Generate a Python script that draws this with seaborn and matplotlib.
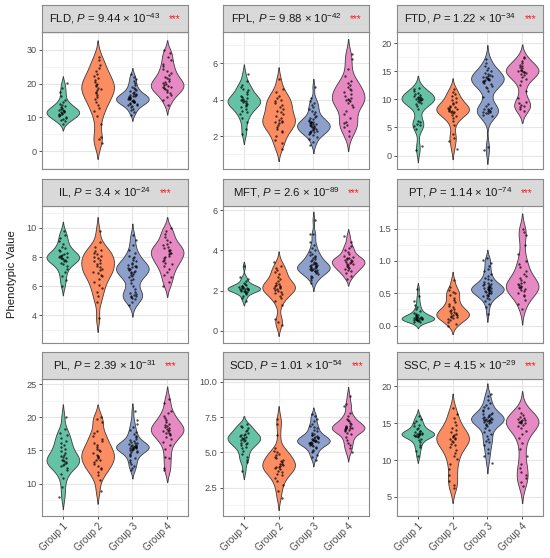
import numpy as np
import pandas as pd
import seaborn as sns
import matplotlib.pyplot as plt
from matplotlib.offsetbox import TextArea, HPacker, AnchoredOffsetbox
from matplotlib.ticker import AutoMinorLocator

sns.set_style("white")
plt.rcParams["font.family"] = ["Liberation Sans", "DejaVu Sans"]
plt.rcParams["mathtext.fontset"] = "custom"
plt.rcParams["mathtext.rm"] = "Liberation Sans"
plt.rcParams["mathtext.it"] = "Liberation Sans:italic"

groups = ["Group 1", "Group 2", "Group 3", "Group 4"]
palette = ["#66C2A5", "#FC8D62", "#8DA0CB", "#E78AC3"]

traits = ["FLD", "FPL", "FTD", "IL", "MFT", "PT", "PL", "SCD", "SSC"]
p_mant = ["9.44", "9.88", "1.22", "3.4", "2.6", "1.14", "2.39", "1.01", "4.15"]
p_exp = [-43, -42, -34, -24, -89, -74, -31, -54, -29]

yticks = {
    "FLD": [0, 10, 20, 30],
    "FPL": [2, 4, 6],
    "FTD": [0, 5, 10, 15, 20],
    "IL": [4, 6, 8, 10],
    "MFT": [0, 2, 4, 6],
    "PT": [0.0, 0.5, 1.0, 1.5],
    "PL": [10, 15, 20, 25],
    "SCD": [2.5, 5.0, 7.5, 10.0],
    "SSC": [5, 10, 15, 20],
}
ylims = {
    "FLD": (-5.2, 35.2), "FPL": (0.2, 7.7), "FTD": (-2.4, 22.0),
    "IL": (2.1, 11.5), "MFT": (-0.6, 6.2), "PT": (-0.27, 1.85),
    "PL": (5.1, 25.8), "SCD": (0.5, 10.2), "SSC": (2.4, 21.0),
}

fld_g1 = [8.2, 8.9, 9.3, 9.6, 9.9, 10.2, 10.4, 10.6, 10.8, 11.0, 11.1, 11.3, 11.5, 11.6, 11.8,
          12.0, 12.1, 12.3, 12.5, 12.8, 13.0, 13.3, 13.6, 14.0, 14.5, 15.2, 16.3, 17.5, 18.6, 20.1]
fld_g2 = [2.6, 3.5, 4.2, 8.0, 10.5, 11.8, 12.9, 13.8, 14.6, 15.3, 16.0, 16.6, 17.1, 17.6, 18.0,
          18.4, 18.8, 19.2, 19.6, 20.0, 20.5, 21.0, 21.6, 22.2, 22.9, 23.7, 24.5, 25.6, 26.8, 27.9]
fld_g3 = [10.8, 11.5, 12.1, 12.6, 13.0, 13.3, 13.6, 13.9, 14.1, 14.3, 14.5, 14.7, 14.9, 15.0, 15.2,
          15.3, 15.5, 15.6, 15.8, 16.0, 16.1, 16.3, 16.5, 16.7, 16.9, 17.1, 17.4, 17.7, 18.0, 18.3,
          18.7, 19.1, 19.6, 20.1, 20.7, 21.3, 22.0, 22.8, 14.8, 15.4, 15.9, 14.6, 16.2, 13.8, 17.0]
fld_g4 = [13.8, 15.2, 16.0, 16.7, 17.2, 17.6, 18.0, 18.3, 18.6, 18.9, 19.1, 19.4, 19.6, 19.9, 20.2,
          20.5, 20.8, 21.2, 21.6, 22.0, 22.5, 23.1, 23.7, 24.4, 25.1, 25.9, 26.8, 27.8, 28.9, 29.8]

fpl_g1 = [2.1, 2.4, 2.8, 3.0, 3.2, 3.3, 3.4, 3.5, 3.6, 3.7, 3.75, 3.8, 3.85, 3.9, 3.95,
          4.0, 4.05, 4.1, 4.2, 4.3, 4.4, 4.5, 4.6, 4.7, 4.8, 5.0, 5.4, 3.65, 3.9, 4.15]
fpl_g2 = [1.3, 1.6, 1.8, 2.0, 2.2, 2.3, 2.4, 2.5, 2.6, 2.7, 2.8, 2.85, 2.9, 3.0, 3.1,
          3.2, 3.3, 3.4, 3.5, 3.6, 3.7, 3.8, 3.9, 4.0, 4.1, 4.2, 4.4, 4.6, 5.1, 2.75]
fpl_g3 = [1.5, 1.7, 1.85, 1.95, 2.05, 2.1, 2.15, 2.2, 2.25, 2.3, 2.35, 2.4, 2.45, 2.5, 2.5,
          2.55, 2.6, 2.6, 2.65, 2.7, 2.7, 2.75, 2.8, 2.85, 2.9, 2.95, 3.0, 3.05, 3.1, 3.2,
          3.3, 3.4, 3.5, 3.6, 3.7, 3.8, 3.9, 4.1, 2.4, 2.55, 2.65, 2.3, 2.8, 2.2, 4.7]
fpl_g4 = [2.0, 2.3, 2.5, 2.6, 2.7, 2.8, 3.0, 3.2, 3.4, 3.6, 3.7, 3.8, 3.9, 4.0, 4.05,
          4.1, 4.2, 4.3, 4.4, 4.5, 4.6, 4.7, 4.8, 4.9, 5.0, 5.3, 5.7, 6.2, 6.5, 3.95]

ftd_g1 = [0.9, 1.7, 4.8, 5.2, 5.5, 5.7, 5.9, 6.2, 8.2, 8.8, 9.1, 9.4, 9.6, 9.8, 9.9,
          10.0, 10.1, 10.2, 10.3, 10.4, 10.6, 10.8, 11.0, 11.2, 11.5, 11.8, 12.1, 9.7, 10.05, 10.5]
ftd_g2 = [1.2, 2.5, 3.2, 3.8, 5.5, 6.2, 6.7, 7.0, 7.3, 7.5, 7.7, 7.9, 8.0, 8.1, 8.3,
          8.5, 8.7, 8.9, 9.1, 9.3, 9.6, 9.9, 10.2, 10.6, 11.0, 11.4, 11.9, 7.8, 8.2, 8.6]
ftd_g3 = [1.0, 1.5, 7.0, 7.3, 7.5, 7.7, 7.8, 7.9, 8.0, 8.1, 8.3, 8.5, 8.8, 9.2, 10.5,
          11.5, 12.0, 12.4, 12.7, 12.9, 13.1, 13.3, 13.4, 13.5, 13.6, 13.7, 13.8, 13.9, 14.0, 14.1,
          14.3, 14.5, 14.7, 15.0, 15.3, 15.6, 16.0, 16.5, 17.2, 12.2, 13.2, 13.55, 8.2, 7.6, 14.2]
ftd_g4 = [8.0, 8.3, 8.6, 8.8, 9.0, 9.3, 9.6, 10.2, 11.5, 12.5, 13.2, 13.7, 14.0, 14.3, 14.5,
          14.7, 14.9, 15.0, 15.1, 15.3, 15.5, 15.7, 15.9, 16.1, 16.4, 16.8, 17.3, 17.6, 14.8, 15.2]

il_g1 = [6.0, 6.4, 6.7, 7.0, 7.2, 7.4, 7.5, 7.6, 7.7, 7.8, 7.85, 7.9, 7.95, 8.0, 8.05,
         8.1, 8.2, 8.3, 8.4, 8.5, 8.6, 8.7, 8.9, 9.1, 9.3, 9.5, 9.8, 7.75, 8.0, 8.15]
il_g2 = [3.8, 4.9, 5.3, 5.6, 5.9, 6.1, 6.3, 6.5, 6.7, 6.8, 6.9, 7.0, 7.1, 7.2, 7.3,
         7.4, 7.5, 7.6, 7.7, 7.8, 7.9, 8.0, 8.1, 8.2, 8.3, 8.4, 8.5, 8.7, 9.0, 9.8]
il_g3 = [4.7, 4.9, 5.1, 5.2, 5.3, 5.35, 5.4, 5.5, 5.6, 5.8, 6.0, 6.2, 6.4, 6.5, 6.6,
         6.7, 6.8, 6.9, 7.0, 7.05, 7.1, 7.15, 7.2, 7.25, 7.3, 7.35, 7.4, 7.5, 7.6, 7.7,
         7.8, 7.9, 8.0, 8.1, 8.3, 8.5, 8.8, 9.2, 9.5, 5.25, 7.0, 7.3, 6.85, 7.45, 5.45]
il_g4 = [6.0, 6.3, 6.6, 6.8, 7.0, 7.2, 7.4, 7.6, 7.7, 7.8, 7.9, 8.0, 8.1, 8.2, 8.3,
         8.4, 8.5, 8.6, 8.7, 8.8, 8.9, 9.0, 9.2, 9.4, 9.6, 9.8, 10.0, 8.25, 8.45, 7.5]

mft_g1 = [1.5, 1.65, 1.75, 1.85, 1.9, 1.95, 2.0, 2.0, 2.05, 2.05, 2.1, 2.1, 2.1, 2.15, 2.15,
          2.2, 2.2, 2.25, 2.3, 2.35, 2.4, 2.5, 2.6, 2.7, 3.2, 2.0, 2.1, 2.15, 1.95, 2.25]
mft_g2 = [0.3, 0.45, 0.6, 1.3, 1.5, 1.65, 1.75, 1.85, 1.95, 2.0, 2.05, 2.1, 2.15, 2.2, 2.25,
          2.3, 2.4, 2.5, 2.6, 2.7, 2.8, 2.9, 3.0, 3.1, 3.2, 3.4, 2.15, 2.25, 2.35, 1.9]
mft_g3 = [2.4, 2.55, 2.65, 2.75, 2.8, 2.85, 2.9, 2.95, 3.0, 3.0, 3.05, 3.1, 3.1, 3.15, 3.2,
          3.2, 3.25, 3.3, 3.3, 3.35, 3.4, 3.45, 3.5, 3.55, 3.6, 3.65, 3.7, 3.8, 3.9, 4.0,
          4.1, 4.25, 4.4, 4.8, 4.8, 5.5, 3.05, 3.15, 3.25, 2.95, 3.35, 3.0, 3.2, 2.7, 3.75]
mft_g4 = [2.6, 2.75, 2.85, 2.95, 3.0, 3.05, 3.1, 3.15, 3.2, 3.25, 3.3, 3.35, 3.4, 3.45, 3.5,
          3.55, 3.6, 3.65, 3.7, 3.8, 3.9, 4.0, 4.1, 4.2, 4.4, 4.7, 3.4, 3.3, 3.5, 3.6]

pt_g1 = [0.05, 0.06, 0.07, 0.08, 0.08, 0.09, 0.09, 0.1, 0.1, 0.1, 0.11, 0.11, 0.12, 0.12, 0.13,
         0.13, 0.14, 0.15, 0.16, 0.17, 0.18, 0.2, 0.22, 0.25, 0.28, 0.32, 0.38, 0.45, 0.57, 0.1]
pt_g2 = [0.0, 0.03, 0.06, 0.08, 0.1, 0.12, 0.13, 0.15, 0.16, 0.17, 0.18, 0.19, 0.2, 0.21, 0.22,
         0.24, 0.26, 0.28, 0.3, 0.33, 0.36, 0.4, 0.43, 0.47, 0.5, 0.52, 0.55, 0.6, 0.7, 0.14]
pt_g3 = [0.18, 0.28, 0.34, 0.38, 0.41, 0.43, 0.45, 0.47, 0.48, 0.5, 0.51, 0.52, 0.53, 0.54, 0.55,
         0.56, 0.57, 0.58, 0.59, 0.6, 0.61, 0.62, 0.63, 0.64, 0.66, 0.68, 0.7, 0.72, 0.74, 0.77,
         0.8, 0.84, 0.88, 0.92, 0.97, 1.02, 1.05, 0.55, 0.57, 0.53, 0.6, 0.5, 0.46, 0.65, 0.58]
pt_g4 = [0.25, 0.33, 0.4, 0.45, 0.48, 0.5, 0.53, 0.55, 0.57, 0.59, 0.6, 0.62, 0.64, 0.66, 0.68,
         0.7, 0.73, 0.76, 0.8, 0.85, 0.9, 0.95, 1.0, 1.1, 1.25, 1.4, 1.45, 1.5, 0.61, 0.58]

pl_g1 = [8.0, 9.5, 10.8, 11.5, 12.0, 12.4, 12.7, 13.0, 13.2, 13.4, 13.6, 13.8, 14.0, 14.3, 14.6,
         14.9, 15.2, 15.5, 15.8, 16.1, 16.5, 16.9, 17.3, 17.7, 18.2, 20.1, 13.1, 13.5, 12.8, 14.1]
pl_g2 = [8.9, 10.6, 11.3, 11.8, 12.2, 12.6, 12.9, 13.2, 13.5, 13.8, 14.0, 14.3, 14.6, 14.9, 15.2,
         15.5, 15.8, 16.1, 16.4, 16.8, 17.2, 17.6, 18.0, 19.3, 19.7, 20.0, 13.6, 14.2, 12.4, 15.0]
pl_g3 = [12.0, 12.3, 12.7, 13.0, 13.3, 13.6, 13.9, 14.1, 14.3, 14.5, 14.7, 14.9, 15.0, 15.1, 15.2,
         15.3, 15.4, 15.5, 15.6, 15.7, 15.8, 15.9, 16.0, 16.1, 16.2, 16.4, 16.6, 16.8, 17.0, 17.2,
         17.5, 17.8, 18.1, 18.5, 19.0, 19.6, 20.9, 15.45, 15.55, 15.65, 15.35, 15.75, 15.25, 14.8, 16.3]
pl_g4 = [12.1, 12.3, 13.8, 14.0, 15.2, 15.8, 16.3, 16.7, 17.0, 17.3, 17.5, 17.7, 17.9, 18.1, 18.3,
         18.5, 18.7, 19.0, 19.3, 19.6, 19.9, 20.2, 20.6, 21.0, 22.2, 22.8, 18.0, 18.4, 17.6, 18.8]

scd_g1 = [3.7, 4.3, 4.5, 4.7, 4.9, 5.1, 5.3, 5.4, 5.5, 5.6, 5.7, 5.8, 5.9, 6.0, 6.05,
          6.1, 6.2, 6.3, 6.4, 6.5, 6.6, 6.7, 6.8, 6.9, 7.0, 5.95, 6.15, 5.85, 6.25, 5.65]
scd_g2 = [1.8, 2.3, 2.7, 3.0, 3.2, 3.4, 3.5, 3.6, 3.7, 3.8, 3.9, 4.0, 4.05, 4.1, 4.2,
          4.3, 4.4, 4.5, 4.6, 4.7, 4.8, 4.9, 5.0, 5.1, 5.3, 6.2, 7.0, 7.4, 3.95, 4.15]
scd_g3 = [4.5, 4.7, 4.85, 5.0, 5.1, 5.2, 5.3, 5.4, 5.45, 5.5, 5.55, 5.6, 5.65, 5.7, 5.75,
          5.8, 5.8, 5.85, 5.9, 5.95, 6.0, 6.05, 6.1, 6.15, 6.2, 6.3, 6.4, 6.5, 6.6, 6.7,
          6.8, 6.9, 7.0, 7.2, 7.4, 7.6, 7.7, 5.8, 5.9, 5.75, 6.0, 5.7, 6.1, 5.65, 6.25]
scd_g4 = [5.0, 5.3, 5.5, 5.7, 5.9, 6.1, 6.3, 6.4, 6.5, 6.6, 6.65, 6.7, 6.75, 6.8, 6.85,
          6.9, 7.0, 7.1, 7.2, 7.3, 7.4, 7.6, 7.8, 8.3, 8.4, 9.0, 6.7, 6.6, 6.8, 6.75]

ssc_g1 = [10.5, 11.2, 11.7, 12.1, 12.4, 12.7, 12.9, 13.1, 13.2, 13.3, 13.4, 13.5, 13.6, 13.7, 13.8,
          13.9, 14.0, 14.2, 14.4, 14.6, 14.8, 15.0, 15.3, 15.6, 16.0, 13.5, 13.6, 13.4, 13.7, 13.3]
ssc_g2 = [6.2, 6.6, 7.2, 8.0, 8.8, 9.5, 10.1, 10.6, 11.0, 11.4, 11.8, 12.1, 12.4, 12.6, 12.8,
          13.0, 13.2, 13.4, 13.6, 13.8, 14.1, 14.4, 14.8, 15.2, 15.7, 16.3, 17.0, 12.9, 13.1, 12.2]
ssc_g3 = [9.6, 10.5, 11.0, 11.5, 12.0, 12.4, 12.8, 13.2, 13.5, 13.8, 14.1, 14.4, 14.6, 14.8, 15.0,
          15.1, 15.2, 15.3, 15.4, 15.5, 15.6, 15.7, 15.8, 15.9, 16.0, 16.1, 16.2, 16.4, 16.6, 16.8,
          17.0, 17.2, 17.5, 17.8, 18.2, 18.7, 19.0, 15.5, 15.6, 15.45, 15.35, 15.75, 16.3, 14.9, 12.6]
ssc_g4 = [6.5, 7.0, 7.5, 7.9, 8.4, 8.9, 9.4, 10.5, 11.5, 12.3, 13.0, 13.6, 14.0, 14.3, 14.6,
          14.8, 15.0, 15.1, 15.2, 15.3, 15.4, 15.5, 15.6, 15.7, 15.9, 16.1, 16.4, 17.0, 15.0, 15.2]

values = {
    "FLD": [fld_g1, fld_g2, fld_g3, fld_g4],
    "FPL": [fpl_g1, fpl_g2, fpl_g3, fpl_g4],
    "FTD": [ftd_g1, ftd_g2, ftd_g3, ftd_g4],
    "IL": [il_g1, il_g2, il_g3, il_g4],
    "MFT": [mft_g1, mft_g2, mft_g3, mft_g4],
    "PT": [pt_g1, pt_g2, pt_g3, pt_g4],
    "PL": [pl_g1, pl_g2, pl_g3, pl_g4],
    "SCD": [scd_g1, scd_g2, scd_g3, scd_g4],
    "SSC": [ssc_g1, ssc_g2, ssc_g3, ssc_g4],
}

rows = []
for t in traits:
    for g, vals in zip(groups, values[t]):
        for v in vals:
            rows.append((t, g, v))
df = pd.DataFrame(rows, columns=["trait", "group", "value"])

W, H = 550, 558
fig = plt.figure(figsize=(W / 100, H / 100), dpi=100)
col_left = [42, 223, 397]
row_top = [5, 179, 352]
pw, sh, bh = 146, 27, 137
border = "#8A8A8A"

np.random.seed(3)  # only fixes the strip jitter

for i, t in enumerate(traits):
    r, c = divmod(i, 3)
    left, top = col_left[c], row_top[r]
    ax = fig.add_axes([left / W, 1 - (top + sh + bh) / H, pw / W, bh / H])
    sax = fig.add_axes([left / W, 1 - (top + sh) / H, pw / W, sh / H])
    sub = df[df.trait == t]

    sns.violinplot(data=sub, x="group", y="value", hue="group", order=groups,
                   hue_order=groups, palette=palette, saturation=1, cut=2,
                   inner=None, density_norm="area", width=0.94, bw_adjust=0.72,
                   linewidth=0.6, linecolor="#3C3C3C", legend=False, ax=ax)
    sns.stripplot(data=sub, x="group", y="value", order=groups, color="black",
                  size=1.7, jitter=0.13, alpha=0.7, ax=ax, zorder=3)

    ax.set_xlim(-0.6, 3.6)
    ax.set_ylim(*ylims[t])
    ax.set_yticks(yticks[t])
    if t == "SCD" or t == "PT":
        ax.set_yticklabels([f"{v:.1f}" for v in yticks[t]])
    ax.yaxis.set_minor_locator(AutoMinorLocator(2))
    ax.set_axisbelow(True)
    ax.grid(True, which="major", color="#E6E6E6", lw=0.8)
    ax.grid(True, which="minor", axis="y", color="#EFEFEF", lw=0.5)
    ax.set_xlabel("")
    ax.set_ylabel("")
    for s in ax.spines.values():
        s.set_color(border)
        s.set_linewidth(0.8)
    ax.tick_params(axis="y", which="major", length=2.5, width=0.6, color="#333333",
                   labelsize=6.6, labelcolor="#4D4D4D", pad=1.5, left=True)
    ax.tick_params(which="minor", length=0)
    if r == 2:
        ax.tick_params(axis="x", length=2.5, width=0.6, color="#333333",
                       labelsize=7, labelcolor="#4D4D4D", pad=1.5, bottom=True)
        for lab in ax.get_xticklabels():
            lab.set_rotation(45)
            lab.set_ha("right")
            lab.set_rotation_mode("anchor")
    else:
        ax.tick_params(axis="x", bottom=False, labelbottom=False)

    sax.set_facecolor("#D9D9D9")
    sax.set_xticks([])
    sax.set_yticks([])
    for s in sax.spines.values():
        s.set_color(border)
        s.set_linewidth(0.8)
    main = TextArea(f"{t}, $\\it{{P}}$ = {p_mant[i]} × 10$^{{{p_exp[i]}}}$",
                    textprops=dict(fontsize=8.2, color="#1A1A1A"))
    stars = TextArea("***", textprops=dict(fontsize=7, color="#FF1A1A"))
    pack = HPacker(children=[main, stars], align="baseline", pad=0, sep=6)
    box = AnchoredOffsetbox(loc="center", child=pack, frameon=False, pad=0,
                            borderpad=0, bbox_to_anchor=(0.5, 0.5),
                            bbox_transform=sax.transAxes)
    sax.add_artist(box)

fig.text(12 / W, 1 - 274 / H, "Phenotypic Value", rotation=90, ha="center",
         va="center", fontsize=8.2, color="#1A1A1A")

fig.savefig("out.png", dpi=100)
